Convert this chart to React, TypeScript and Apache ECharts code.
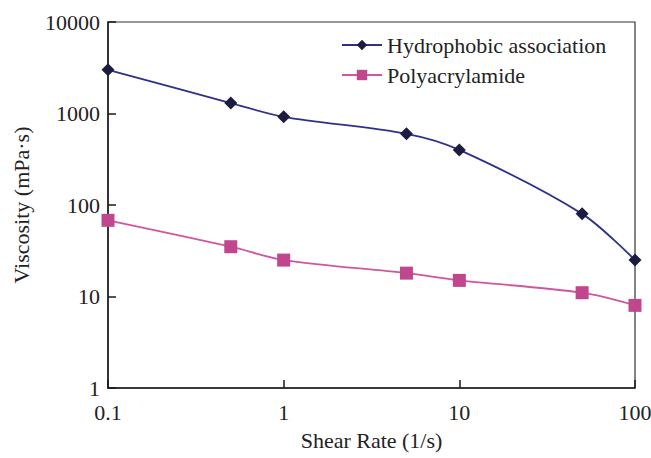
import React, { useEffect, useRef } from "react";
import * as echarts from "echarts";

const shearRates = [0.1, 0.5, 1, 5, 10, 50, 100];
const hydrophobic = [3000, 1300, 920, 600, 400, 80, 25];
const polyacrylamide = [68, 35, 25, 18, 15, 11, 8];
const seriesNames = ["Hydrophobic association", "Polyacrylamide"];

const FONT = "Liberation Serif";

export default function App() {
  const ref = useRef<HTMLDivElement>(null);
  useEffect(() => {
    const chart = echarts.init(ref.current!, null, { renderer: "svg" });
    chart.setOption({
      animation: false,
      backgroundColor: "#ffffff",
      grid: {
        left: 108,
        right: 16,
        top: 22,
        bottom: 70,
        show: true,
        borderColor: "#333",
        borderWidth: 1.2,
        containLabel: false,
        outerBoundsMode: "none",
      },
      legend: {
        orient: "vertical",
        left: 336,
        top: 29,
        itemWidth: 40,
        itemHeight: 13,
        itemGap: 8,
        textStyle: { fontFamily: FONT, fontSize: 22, color: "#222" },
        data: seriesNames,
      },
      xAxis: {
        type: "log",
        logBase: 10,
        min: 0.1,
        max: 100,
        name: "Shear Rate (1/s)",
        nameLocation: "middle",
        nameGap: 41,
        nameTextStyle: { fontFamily: FONT, fontSize: 22, color: "#222" },
        axisLine: { lineStyle: { color: "#1a1a1a", width: 1.5 } },
        axisTick: { inside: true, length: 8, lineStyle: { color: "#1a1a1a", width: 1.5 } },
        minorTick: { show: false },
        splitLine: { show: false },
        axisLabel: {
          fontFamily: FONT,
          fontSize: 22,
          color: "#222",
          margin: 13,
          formatter: (v: number) => String(v),
        },
      },
      yAxis: {
        type: "log",
        logBase: 10,
        min: 1,
        max: 10000,
        name: "Viscosity (mPa·s)",
        nameLocation: "middle",
        nameGap: 76,
        nameTextStyle: { fontFamily: FONT, fontSize: 22, color: "#222" },
        axisLine: { lineStyle: { color: "#1a1a1a", width: 1.5 } },
        axisTick: { inside: true, length: 8, lineStyle: { color: "#1a1a1a", width: 1.5 } },
        minorTick: { show: false },
        splitLine: { show: false },
        axisLabel: {
          fontFamily: FONT,
          fontSize: 22,
          color: "#222",
          margin: 8,
          formatter: (v: number) => String(v),
        },
      },
      series: [
        {
          name: seriesNames[0],
          type: "line",
          smooth: 0.3,
          data: shearRates.map((x, i) => [x, hydrophobic[i]]),
          symbol: "diamond",
          symbolSize: 13,
          lineStyle: { color: "#2e3189", width: 1.8 },
          itemStyle: { color: "#1c1c40" },
        },
        {
          name: seriesNames[1],
          type: "line",
          smooth: 0.3,
          data: shearRates.map((x, i) => [x, polyacrylamide[i]]),
          symbol: "rect",
          symbolSize: 13,
          lineStyle: { color: "#d0569e", width: 1.8 },
          itemStyle: { color: "#c0468e" },
        },
      ],
    });
    return () => chart.dispose();
  }, []);
  return (
    <div
      ref={ref}
      style={{ position: "fixed", left: 0, top: 0, width: 651, height: 458 }}
    />
  );
}
